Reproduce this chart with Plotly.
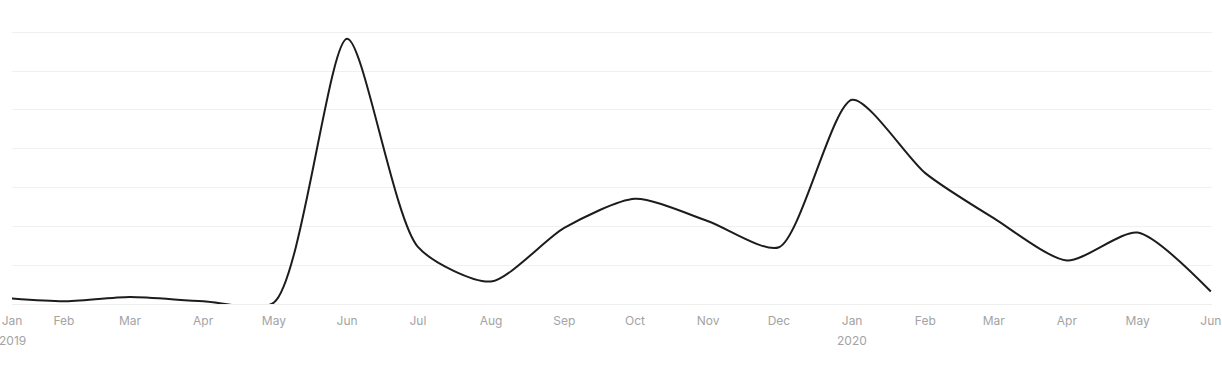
import plotly.graph_objects as go

dates = ["2019-01-10", "2019-02-01", "2019-03-01", "2019-04-01", "2019-05-01", "2019-06-01",
         "2019-07-01", "2019-08-01", "2019-09-01", "2019-10-01", "2019-11-01", "2019-12-01",
         "2020-01-01", "2020-02-01", "2020-03-01", "2020-04-01", "2020-05-01", "2020-06-01"]
values = [0.14, 0.07, 0.18, 0.07, 0.04, 6.83, 1.47, 0.58, 1.96, 2.71, 2.13, 1.46,
          5.26, 3.37, 2.21, 1.12, 1.84, 0.32]
tick_labels = ["Jan", "Feb", "Mar", "Apr", "May", "Jun", "Jul", "Aug", "Sep", "Oct", "Nov", "Dec",
               "Jan", "Feb", "Mar", "Apr", "May", "Jun"]
year_labels = [("2019-01-10", "2019"), ("2020-01-01", "2020")]

FONT = "Inter, Roboto, sans-serif"

fig = go.Figure()
fig.add_trace(go.Scatter(
    x=dates, y=values, mode="lines",
    line=dict(color="#1c1c1c", width=2, shape="spline", smoothing=0.7),
    hoverinfo="skip", showlegend=False, cliponaxis=False,
))

for d, label in year_labels:
    fig.add_annotation(x=d, y=-0.135, xref="x", yref="paper", text=label,
                       showarrow=False, font=dict(family=FONT, size=12, color="#a3a3a3"),
                       xanchor="center", yanchor="middle")

fig.update_layout(
    width=1222, height=369,
    margin=dict(l=12, r=10, t=31, b=65),
    paper_bgcolor="white", plot_bgcolor="white",
    xaxis=dict(
        type="date", range=["2019-01-10", "2020-06-01 12:00"],
        tickmode="array", tickvals=dates, ticktext=tick_labels,
        showgrid=False, zeroline=False, showline=False, ticks="",
        tickfont=dict(family=FONT, size=12, color="#a3a3a3"),
        ticklabelstandoff=8, automargin=False,
    ),
    yaxis=dict(
        range=[0, 7.03], dtick=1, tick0=0, showticklabels=False,
        showgrid=True, gridcolor="#f0f0f0", gridwidth=1,
        zeroline=True, zerolinecolor="#eeeeee", zerolinewidth=1,
        showline=False, ticks="", automargin=False,
    ),
)

fig.write_html("out.html")
